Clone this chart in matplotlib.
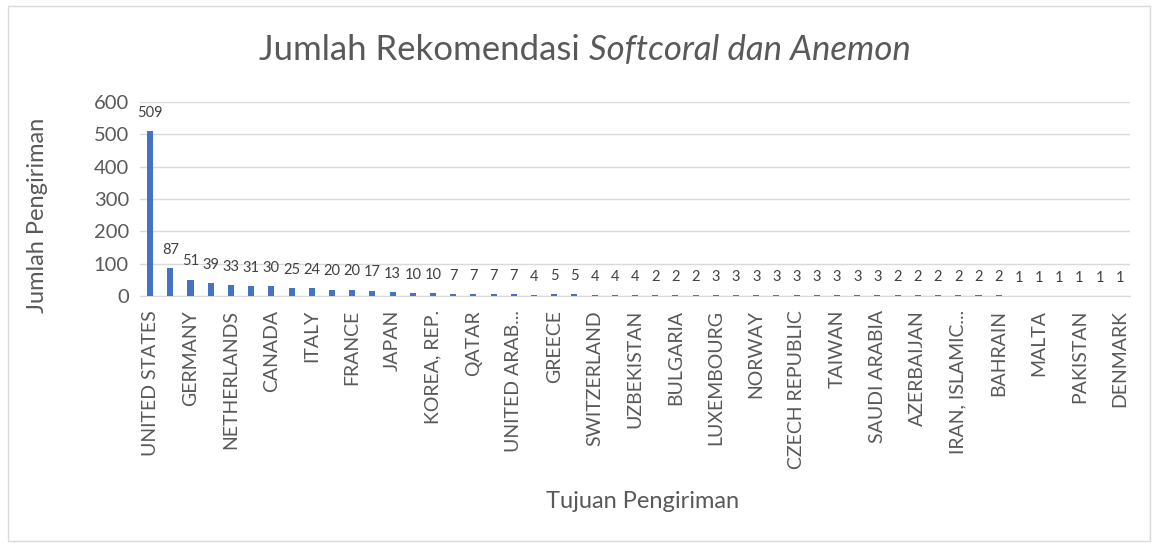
import matplotlib.pyplot as plt
import numpy as np
from matplotlib.patches import Rectangle

plt.rcParams['font.family'] = ['Lato', 'DejaVu Sans']

# values per destination (49 bars, labels shown on every other bar)
values = [509, 87, 51, 39, 33, 31, 30, 25, 24, 20, 20, 17, 13, 10, 10,
          7, 7, 7, 7, 4, 5, 5, 4, 4, 4,
          2, 2, 2, 3, 3, 3, 3, 3, 3, 3, 3, 3, 2, 2, 2, 2, 2, 2,
          1, 1, 1, 1, 1, 1]
tick_labels = ['UNITED STATES', 'GERMANY', 'NETHERLANDS', 'CANADA', 'ITALY',
               'FRANCE', 'JAPAN', 'KOREA, REP.', 'QATAR', 'UNITED ARAB...',
               'GREECE', 'SWITZERLAND', 'UZBEKISTAN', 'BULGARIA', 'LUXEMBOURG',
               'NORWAY', 'CZECH REPUBLIC', 'TAIWAN', 'SAUDI ARABIA',
               'AZERBAIJAN', 'IRAN, ISLAMIC...', 'BAHRAIN', 'MALTA',
               'PAKISTAN', 'DENMARK']
y_ticks = [0, 100, 200, 300, 400, 500, 600]

grey = '#595959'
fig = plt.figure(figsize=(11.59, 5.45), dpi=100)
ax = fig.add_axes([140 / 1159, 1 - 296 / 545, (1130 - 140) / 1159, (296 - 102) / 545])

x = np.arange(len(values))
ax.bar(x, values, width=0.3, color='#4472C4', zorder=3)
for xi, v in zip(x, values):
    ax.annotate(str(v), (xi, v), xytext=(0, 8), textcoords='offset points',
                ha='center', va='bottom', fontsize=10.5, color='#404040')

ax.set_xlim(-0.5, len(values) - 0.5)
ax.set_ylim(0, 600)
ax.set_yticks(y_ticks)
ax.set_xticks(x[::2])
ax.set_xticklabels(tick_labels, rotation=90, fontsize=14, color=grey)
ax.tick_params(axis='y', labelsize=14.5, colors=grey, length=0, pad=8)
ax.tick_params(axis='x', length=0, pad=10)
ax.grid(axis='y', color='#d9d9d9', linewidth=1, zorder=0)
for s in ['top', 'right', 'left']:
    ax.spines[s].set_visible(False)
ax.spines['bottom'].set_color('#d9d9d9')

fig.text(38 / 1159, 1 - 215 / 545, 'Jumlah Pengiriman', rotation=90,
         ha='center', va='center', fontsize=17, color=grey)
fig.text(643 / 1159, 1 - 502 / 545, 'Tujuan Pengiriman', ha='center', va='center',
         fontsize=17, color=grey)

# title with italic part
t1 = fig.text(0.5, 1 - 50 / 545, 'Jumlah Rekomendasi ', ha='right', va='center',
              fontsize=25, color=grey)
t2 = fig.text(0.5, 1 - 50 / 545, 'Softcoral dan Anemon', ha='left', va='center',
              fontsize=25, color=grey, style='italic')
fig.canvas.draw()
r = fig.canvas.get_renderer()
w1 = t1.get_window_extent(r).width
w2 = t2.get_window_extent(r).width
cx = 585
t1.set_x((cx - (w1 + w2) / 2 + w1) / 1159)
t2.set_x((cx - (w1 + w2) / 2 + w1) / 1159)

fig.patches.append(Rectangle((8 / 1159, 4 / 545), 1142 / 1159, 535 / 545,
                             transform=fig.transFigure, fill=False,
                             edgecolor='#d9d9d9', linewidth=1))

fig.savefig('out.png', dpi=100)
